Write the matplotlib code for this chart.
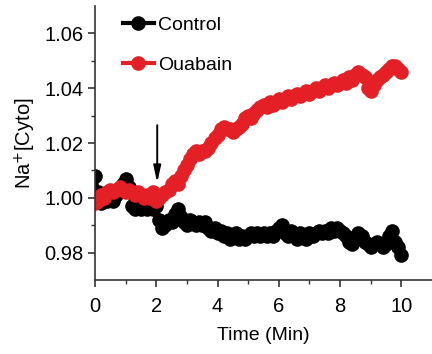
import matplotlib
matplotlib.use('Agg')
import matplotlib.pyplot as plt
import numpy as np

plt.rcParams['font.family'] = ['Liberation Sans', 'DejaVu Sans']

# time axis (min), one sample every 0.1 min
time = np.round(np.arange(0, 10.01, 0.1), 1)

control = [1.008, 1.002, 0.998, 0.999, 0.999, 1.000, 0.999, 1.001, 1.003, 1.005,
           1.007, 1.004, 0.997, 0.996, 0.997, 0.996, 0.997, 0.996, 0.997, 0.996,
           0.997, 0.992, 0.989, 0.990, 0.992, 0.991, 0.994, 0.996, 0.993, 0.991,
           0.990, 0.992, 0.991, 0.990, 0.991, 0.990, 0.991, 0.989, 0.988, 0.989,
           0.987, 0.988, 0.986, 0.987, 0.985, 0.986, 0.987, 0.985, 0.986, 0.985,
           0.986, 0.987, 0.986, 0.987, 0.986, 0.987, 0.986, 0.987, 0.986, 0.988,
           0.989, 0.990, 0.987, 0.986, 0.988, 0.987, 0.985, 0.987, 0.986, 0.985,
           0.987, 0.986, 0.987, 0.988, 0.987, 0.988, 0.987, 0.989, 0.988, 0.989,
           0.988, 0.987, 0.986, 0.984, 0.983, 0.985, 0.987, 0.986, 0.984, 0.983,
           0.982, 0.983, 0.984, 0.983, 0.982, 0.983, 0.986, 0.988, 0.984, 0.982,
           0.979]

ouabain = [0.998, 0.999, 1.001, 1.000, 1.002, 1.003, 1.002, 1.003, 1.004, 1.003,
           1.002, 1.003, 1.002, 1.001, 1.002, 1.001, 1.000, 1.001, 1.000, 1.002,
           0.999, 1.000, 1.001, 1.002, 1.003, 1.005, 1.006, 1.005, 1.008, 1.010,
           1.012, 1.014, 1.016, 1.017, 1.016, 1.017, 1.017, 1.018, 1.020, 1.022,
           1.023, 1.025, 1.026, 1.025, 1.025, 1.024, 1.025, 1.026, 1.027, 1.029,
           1.030, 1.029, 1.031, 1.032, 1.033, 1.034, 1.033, 1.035, 1.034, 1.035,
           1.036, 1.035, 1.036, 1.037, 1.036, 1.037, 1.038, 1.037, 1.038, 1.039,
           1.038, 1.039, 1.040, 1.039, 1.040, 1.041, 1.040, 1.041, 1.042, 1.041,
           1.042, 1.043, 1.042, 1.044, 1.043, 1.045, 1.046, 1.045, 1.044, 1.040,
           1.039, 1.041, 1.043, 1.044, 1.045, 1.046, 1.047, 1.048, 1.048, 1.047,
           1.046]

x_ticks = [0, 2, 4, 6, 8, 10]
y_ticks = [0.98, 1.00, 1.02, 1.04, 1.06]

fig = plt.figure(figsize=(4.32, 3.54), dpi=100)
ax = fig.add_axes([0.22, 0.209, 0.78, 0.774])

ax.plot(time, control, color='black', marker='o', markersize=9.5, lw=3, label='Control')
ax.plot(time, ouabain, color='#e41f26', marker='o', markersize=9.5, lw=3, label='Ouabain')

# drug application arrow
ax.annotate('', xy=(2.03, 1.0045), xytext=(2.03, 1.0275),
            arrowprops=dict(arrowstyle='-|>,head_length=1.0,head_width=0.22',
                            color='black', lw=1.4))

ax.set_xlim(0, 11)
ax.set_ylim(0.97, 1.07)
ax.set_xticks(x_ticks)
ax.set_xticks([1, 3, 5, 7, 9], minor=True)
ax.set_yticks(y_ticks)
ax.set_yticks([0.99, 1.01, 1.03, 1.05], minor=True)
ax.set_yticklabels(['%.2f' % v for v in y_ticks])

for s in ['top', 'right']:
    ax.spines[s].set_visible(False)
for s in ['left', 'bottom']:
    ax.spines[s].set_color('#333333')
    ax.spines[s].set_linewidth(1.2)
ax.tick_params(which='major', direction='out', length=5, width=1.2, color='#333333',
               labelsize=14.5)
ax.tick_params(axis='x', which='major', pad=7)
ax.tick_params(which='minor', direction='out', length=3, width=1.0, color='#333333')

ax.set_xlabel('Time (Min)', fontsize=14, labelpad=8)
ax.set_ylabel('Na$^{+}$[Cyto]', fontsize=14.5, labelpad=4)

ax.legend(loc='upper left', bbox_to_anchor=(0.03, 1.025), frameon=False, fontsize=14,
          handlelength=1.6, handletextpad=0.2, labelspacing=1.15)

fig.savefig('out.png', dpi=100)
